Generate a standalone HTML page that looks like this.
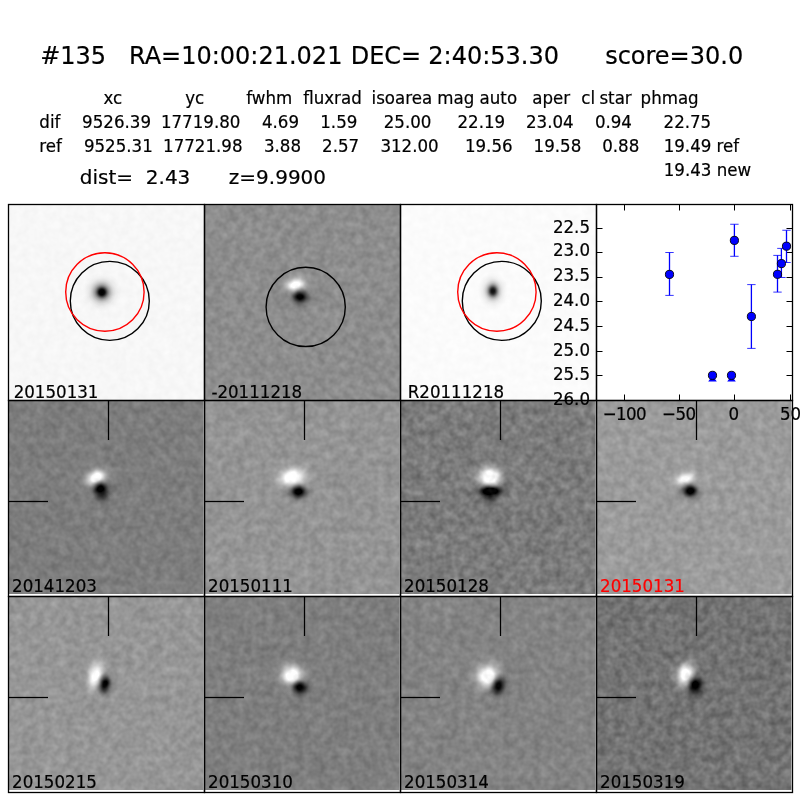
<!DOCTYPE html>
<html lang="en"><head><meta charset="utf-8"><title>candidate 135</title>
<style>
html,body{margin:0;padding:0;background:#fff;}
body{width:800px;height:800px;overflow:hidden;}
svg{display:block;}
text{font-family:"DejaVu Sans", "Liberation Sans", sans-serif;fill:#000;stroke:#000;stroke-width:0.2px;}
</style></head><body>
<svg width="800" height="800" viewBox="0 0 800 800">
<defs>
</defs>
<rect x="0" y="0" width="800" height="800" fill="#fff"/>
<filter id="n00" filterUnits="userSpaceOnUse" x="8" y="204" width="196" height="196" color-interpolation-filters="sRGB"><feTurbulence type="fractalNoise" baseFrequency="0.135" numOctaves="2" seed="14"/><feColorMatrix type="matrix" values="1 0 0 0 0 1 0 0 0 0 1 0 0 0 0 0 0 0 0 1" result="n"/><feTurbulence type="fractalNoise" baseFrequency="0.045" numOctaves="1" seed="31"/><feColorMatrix type="matrix" values="1 0 0 0 0 1 0 0 0 0 1 0 0 0 0 0 0 0 0 1" result="m"/><feComposite in="SourceGraphic" in2="n" operator="arithmetic" k1="0" k2="1" k3="0.04" k4="-0.02" result="s1"/><feComposite in="s1" in2="m" operator="arithmetic" k1="0" k2="1" k3="0.0112" k4="-0.0056"/></filter>
<clipPath id="c00"><rect x="8" y="204" width="196" height="196"/></clipPath>
<g clip-path="url(#c00)"><g filter="url(#n00)">
<rect x="8" y="204" width="196" height="196" fill="#f7f7f7"/>
<radialGradient id="g1"><stop offset="0.000" stop-color="#000" stop-opacity="1.000"/><stop offset="0.125" stop-color="#000" stop-opacity="0.980"/><stop offset="0.175" stop-color="#000" stop-opacity="0.880"/><stop offset="0.225" stop-color="#000" stop-opacity="0.720"/><stop offset="0.300" stop-color="#000" stop-opacity="0.500"/><stop offset="0.375" stop-color="#000" stop-opacity="0.340"/><stop offset="0.475" stop-color="#000" stop-opacity="0.200"/><stop offset="0.575" stop-color="#000" stop-opacity="0.110"/><stop offset="0.700" stop-color="#000" stop-opacity="0.050"/><stop offset="0.850" stop-color="#000" stop-opacity="0.015"/><stop offset="1.000" stop-color="#000" stop-opacity="0.000"/></radialGradient>
<ellipse cx="101.85" cy="292.2" rx="20.00" ry="20.00" fill="url(#g1)"/>
</g></g>
<filter id="n10" filterUnits="userSpaceOnUse" x="204" y="204" width="196" height="196" color-interpolation-filters="sRGB"><feTurbulence type="fractalNoise" baseFrequency="0.135" numOctaves="2" seed="21"/><feColorMatrix type="matrix" values="1 0 0 0 0 1 0 0 0 0 1 0 0 0 0 0 0 0 0 1" result="n"/><feTurbulence type="fractalNoise" baseFrequency="0.045" numOctaves="1" seed="44"/><feColorMatrix type="matrix" values="1 0 0 0 0 1 0 0 0 0 1 0 0 0 0 0 0 0 0 1" result="m"/><feComposite in="SourceGraphic" in2="n" operator="arithmetic" k1="0" k2="1" k3="0.17" k4="-0.085" result="s1"/><feComposite in="s1" in2="m" operator="arithmetic" k1="0" k2="1" k3="0.0476" k4="-0.0238"/></filter>
<clipPath id="c10"><rect x="204" y="204" width="196" height="196"/></clipPath>
<g clip-path="url(#c10)"><g filter="url(#n10)">
<rect x="204" y="204" width="196" height="196" fill="#8d8d8d"/>
<radialGradient id="g2"><stop offset="0.000" stop-color="#fff" stop-opacity="1.000"/><stop offset="0.059" stop-color="#fff" stop-opacity="1.000"/><stop offset="0.118" stop-color="#fff" stop-opacity="1.000"/><stop offset="0.176" stop-color="#fff" stop-opacity="1.000"/><stop offset="0.235" stop-color="#fff" stop-opacity="0.871"/><stop offset="0.294" stop-color="#fff" stop-opacity="0.728"/><stop offset="0.353" stop-color="#fff" stop-opacity="0.584"/><stop offset="0.412" stop-color="#fff" stop-opacity="0.450"/><stop offset="0.471" stop-color="#fff" stop-opacity="0.334"/><stop offset="0.529" stop-color="#fff" stop-opacity="0.237"/><stop offset="0.588" stop-color="#fff" stop-opacity="0.162"/><stop offset="0.647" stop-color="#fff" stop-opacity="0.107"/><stop offset="0.706" stop-color="#fff" stop-opacity="0.067"/><stop offset="0.765" stop-color="#fff" stop-opacity="0.041"/><stop offset="0.824" stop-color="#fff" stop-opacity="0.024"/><stop offset="0.882" stop-color="#fff" stop-opacity="0.009"/><stop offset="0.941" stop-color="#fff" stop-opacity="0.003"/><stop offset="1.000" stop-color="#fff" stop-opacity="0.000"/></radialGradient>
<ellipse cx="295.5" cy="285.1" rx="19.99" ry="14.73" fill="url(#g2)" transform="rotate(-12 295.5 285.1)"/>
<radialGradient id="g3"><stop offset="0.000" stop-color="#000" stop-opacity="1.000"/><stop offset="0.059" stop-color="#000" stop-opacity="1.000"/><stop offset="0.118" stop-color="#000" stop-opacity="1.000"/><stop offset="0.176" stop-color="#000" stop-opacity="0.961"/><stop offset="0.235" stop-color="#000" stop-opacity="0.835"/><stop offset="0.294" stop-color="#000" stop-opacity="0.698"/><stop offset="0.353" stop-color="#000" stop-opacity="0.560"/><stop offset="0.412" stop-color="#000" stop-opacity="0.432"/><stop offset="0.471" stop-color="#000" stop-opacity="0.320"/><stop offset="0.529" stop-color="#000" stop-opacity="0.228"/><stop offset="0.588" stop-color="#000" stop-opacity="0.156"/><stop offset="0.647" stop-color="#000" stop-opacity="0.102"/><stop offset="0.706" stop-color="#000" stop-opacity="0.065"/><stop offset="0.765" stop-color="#000" stop-opacity="0.039"/><stop offset="0.824" stop-color="#000" stop-opacity="0.023"/><stop offset="0.882" stop-color="#000" stop-opacity="0.009"/><stop offset="0.941" stop-color="#000" stop-opacity="0.002"/><stop offset="1.000" stop-color="#000" stop-opacity="0.000"/></radialGradient>
<ellipse cx="300" cy="296.75" rx="16.37" ry="13.78" fill="url(#g3)"/>
</g></g>
<filter id="n20" filterUnits="userSpaceOnUse" x="400" y="204" width="196" height="196" color-interpolation-filters="sRGB"><feTurbulence type="fractalNoise" baseFrequency="0.135" numOctaves="2" seed="28"/><feColorMatrix type="matrix" values="1 0 0 0 0 1 0 0 0 0 1 0 0 0 0 0 0 0 0 1" result="n"/><feTurbulence type="fractalNoise" baseFrequency="0.045" numOctaves="1" seed="57"/><feColorMatrix type="matrix" values="1 0 0 0 0 1 0 0 0 0 1 0 0 0 0 0 0 0 0 1" result="m"/><feComposite in="SourceGraphic" in2="n" operator="arithmetic" k1="0" k2="1" k3="0.03" k4="-0.015" result="s1"/><feComposite in="s1" in2="m" operator="arithmetic" k1="0" k2="1" k3="0.0084" k4="-0.0042"/></filter>
<clipPath id="c20"><rect x="400" y="204" width="196" height="196"/></clipPath>
<g clip-path="url(#c20)"><g filter="url(#n20)">
<rect x="400" y="204" width="196" height="196" fill="#fbfbfb"/>
<radialGradient id="g4"><stop offset="0.000" stop-color="#000" stop-opacity="0.950"/><stop offset="0.111" stop-color="#000" stop-opacity="0.900"/><stop offset="0.194" stop-color="#000" stop-opacity="0.740"/><stop offset="0.278" stop-color="#000" stop-opacity="0.520"/><stop offset="0.361" stop-color="#000" stop-opacity="0.340"/><stop offset="0.444" stop-color="#000" stop-opacity="0.210"/><stop offset="0.556" stop-color="#000" stop-opacity="0.110"/><stop offset="0.667" stop-color="#000" stop-opacity="0.055"/><stop offset="0.833" stop-color="#000" stop-opacity="0.020"/><stop offset="1.000" stop-color="#000" stop-opacity="0.000"/></radialGradient>
<ellipse cx="492.9" cy="291" rx="15.30" ry="18.90" fill="url(#g4)"/>
</g></g>
<filter id="n01" filterUnits="userSpaceOnUse" x="8" y="400" width="196" height="196" color-interpolation-filters="sRGB"><feTurbulence type="fractalNoise" baseFrequency="0.135" numOctaves="2" seed="35"/><feColorMatrix type="matrix" values="1 0 0 0 0 1 0 0 0 0 1 0 0 0 0 0 0 0 0 1" result="n"/><feTurbulence type="fractalNoise" baseFrequency="0.045" numOctaves="1" seed="70"/><feColorMatrix type="matrix" values="1 0 0 0 0 1 0 0 0 0 1 0 0 0 0 0 0 0 0 1" result="m"/><feComposite in="SourceGraphic" in2="n" operator="arithmetic" k1="0" k2="1" k3="0.17" k4="-0.085" result="s1"/><feComposite in="s1" in2="m" operator="arithmetic" k1="0" k2="1" k3="0.0476" k4="-0.0238"/></filter>
<rect x="8" y="400" width="196" height="196" fill="#fff"/>
<clipPath id="c01"><rect x="8" y="400" width="195.4" height="193.9"/></clipPath>
<g clip-path="url(#c01)"><g filter="url(#n01)">
<rect x="8" y="400" width="196" height="196" fill="#7d7d7d"/>
<radialGradient id="g5"><stop offset="0.000" stop-color="#fff" stop-opacity="1.000"/><stop offset="0.059" stop-color="#fff" stop-opacity="1.000"/><stop offset="0.118" stop-color="#fff" stop-opacity="1.000"/><stop offset="0.176" stop-color="#fff" stop-opacity="1.000"/><stop offset="0.235" stop-color="#fff" stop-opacity="0.980"/><stop offset="0.294" stop-color="#fff" stop-opacity="0.819"/><stop offset="0.353" stop-color="#fff" stop-opacity="0.657"/><stop offset="0.412" stop-color="#fff" stop-opacity="0.507"/><stop offset="0.471" stop-color="#fff" stop-opacity="0.375"/><stop offset="0.529" stop-color="#fff" stop-opacity="0.267"/><stop offset="0.588" stop-color="#fff" stop-opacity="0.183"/><stop offset="0.647" stop-color="#fff" stop-opacity="0.120"/><stop offset="0.706" stop-color="#fff" stop-opacity="0.076"/><stop offset="0.765" stop-color="#fff" stop-opacity="0.046"/><stop offset="0.824" stop-color="#fff" stop-opacity="0.027"/><stop offset="0.882" stop-color="#fff" stop-opacity="0.011"/><stop offset="0.941" stop-color="#fff" stop-opacity="0.003"/><stop offset="1.000" stop-color="#fff" stop-opacity="0.000"/></radialGradient>
<ellipse cx="96" cy="477.6" rx="21.59" ry="15.42" fill="url(#g5)" transform="rotate(-25 96 477.6)"/>
<radialGradient id="g6"><stop offset="0.000" stop-color="#000" stop-opacity="0.600"/><stop offset="0.059" stop-color="#000" stop-opacity="0.588"/><stop offset="0.118" stop-color="#000" stop-opacity="0.554"/><stop offset="0.176" stop-color="#000" stop-opacity="0.501"/><stop offset="0.235" stop-color="#000" stop-opacity="0.436"/><stop offset="0.294" stop-color="#000" stop-opacity="0.364"/><stop offset="0.353" stop-color="#000" stop-opacity="0.292"/><stop offset="0.412" stop-color="#000" stop-opacity="0.225"/><stop offset="0.471" stop-color="#000" stop-opacity="0.167"/><stop offset="0.529" stop-color="#000" stop-opacity="0.119"/><stop offset="0.588" stop-color="#000" stop-opacity="0.081"/><stop offset="0.647" stop-color="#000" stop-opacity="0.053"/><stop offset="0.706" stop-color="#000" stop-opacity="0.034"/><stop offset="0.765" stop-color="#000" stop-opacity="0.020"/><stop offset="0.824" stop-color="#000" stop-opacity="0.012"/><stop offset="0.882" stop-color="#000" stop-opacity="0.005"/><stop offset="0.941" stop-color="#000" stop-opacity="0.001"/><stop offset="1.000" stop-color="#000" stop-opacity="0.000"/></radialGradient>
<ellipse cx="101.8" cy="496" rx="13.08" ry="15.09" fill="url(#g6)"/>
<radialGradient id="g7"><stop offset="0.000" stop-color="#000" stop-opacity="1.000"/><stop offset="0.059" stop-color="#000" stop-opacity="1.000"/><stop offset="0.118" stop-color="#000" stop-opacity="1.000"/><stop offset="0.176" stop-color="#000" stop-opacity="1.000"/><stop offset="0.235" stop-color="#000" stop-opacity="0.871"/><stop offset="0.294" stop-color="#000" stop-opacity="0.728"/><stop offset="0.353" stop-color="#000" stop-opacity="0.584"/><stop offset="0.412" stop-color="#000" stop-opacity="0.450"/><stop offset="0.471" stop-color="#000" stop-opacity="0.334"/><stop offset="0.529" stop-color="#000" stop-opacity="0.237"/><stop offset="0.588" stop-color="#000" stop-opacity="0.162"/><stop offset="0.647" stop-color="#000" stop-opacity="0.107"/><stop offset="0.706" stop-color="#000" stop-opacity="0.067"/><stop offset="0.765" stop-color="#000" stop-opacity="0.041"/><stop offset="0.824" stop-color="#000" stop-opacity="0.024"/><stop offset="0.882" stop-color="#000" stop-opacity="0.009"/><stop offset="0.941" stop-color="#000" stop-opacity="0.003"/><stop offset="1.000" stop-color="#000" stop-opacity="0.000"/></radialGradient>
<ellipse cx="100.75" cy="488.9" rx="16.23" ry="13.67" fill="url(#g7)"/>
</g></g>
<filter id="n11" filterUnits="userSpaceOnUse" x="204" y="400" width="196" height="196" color-interpolation-filters="sRGB"><feTurbulence type="fractalNoise" baseFrequency="0.135" numOctaves="2" seed="42"/><feColorMatrix type="matrix" values="1 0 0 0 0 1 0 0 0 0 1 0 0 0 0 0 0 0 0 1" result="n"/><feTurbulence type="fractalNoise" baseFrequency="0.045" numOctaves="1" seed="83"/><feColorMatrix type="matrix" values="1 0 0 0 0 1 0 0 0 0 1 0 0 0 0 0 0 0 0 1" result="m"/><feComposite in="SourceGraphic" in2="n" operator="arithmetic" k1="0" k2="1" k3="0.17" k4="-0.085" result="s1"/><feComposite in="s1" in2="m" operator="arithmetic" k1="0" k2="1" k3="0.0476" k4="-0.0238"/></filter>
<rect x="204" y="400" width="196" height="196" fill="#fff"/>
<clipPath id="c11"><rect x="204" y="400" width="195.4" height="193.9"/></clipPath>
<g clip-path="url(#c11)"><g filter="url(#n11)">
<rect x="204" y="400" width="196" height="196" fill="#949494"/>
<radialGradient id="g8"><stop offset="0.000" stop-color="#fff" stop-opacity="1.000"/><stop offset="0.059" stop-color="#fff" stop-opacity="1.000"/><stop offset="0.118" stop-color="#fff" stop-opacity="1.000"/><stop offset="0.176" stop-color="#fff" stop-opacity="1.000"/><stop offset="0.235" stop-color="#fff" stop-opacity="1.000"/><stop offset="0.294" stop-color="#fff" stop-opacity="0.910"/><stop offset="0.353" stop-color="#fff" stop-opacity="0.730"/><stop offset="0.412" stop-color="#fff" stop-opacity="0.563"/><stop offset="0.471" stop-color="#fff" stop-opacity="0.417"/><stop offset="0.529" stop-color="#fff" stop-opacity="0.297"/><stop offset="0.588" stop-color="#fff" stop-opacity="0.203"/><stop offset="0.647" stop-color="#fff" stop-opacity="0.133"/><stop offset="0.706" stop-color="#fff" stop-opacity="0.084"/><stop offset="0.765" stop-color="#fff" stop-opacity="0.051"/><stop offset="0.824" stop-color="#fff" stop-opacity="0.030"/><stop offset="0.882" stop-color="#fff" stop-opacity="0.012"/><stop offset="0.941" stop-color="#fff" stop-opacity="0.003"/><stop offset="1.000" stop-color="#fff" stop-opacity="0.000"/></radialGradient>
<ellipse cx="292.6" cy="477.5" rx="27.22" ry="19.15" fill="url(#g8)" transform="rotate(-8 292.6 477.5)"/>
<radialGradient id="g9"><stop offset="0.000" stop-color="#000" stop-opacity="1.000"/><stop offset="0.059" stop-color="#000" stop-opacity="1.000"/><stop offset="0.118" stop-color="#000" stop-opacity="1.000"/><stop offset="0.176" stop-color="#000" stop-opacity="0.961"/><stop offset="0.235" stop-color="#000" stop-opacity="0.835"/><stop offset="0.294" stop-color="#000" stop-opacity="0.698"/><stop offset="0.353" stop-color="#000" stop-opacity="0.560"/><stop offset="0.412" stop-color="#000" stop-opacity="0.432"/><stop offset="0.471" stop-color="#000" stop-opacity="0.320"/><stop offset="0.529" stop-color="#000" stop-opacity="0.228"/><stop offset="0.588" stop-color="#000" stop-opacity="0.156"/><stop offset="0.647" stop-color="#000" stop-opacity="0.102"/><stop offset="0.706" stop-color="#000" stop-opacity="0.065"/><stop offset="0.765" stop-color="#000" stop-opacity="0.039"/><stop offset="0.824" stop-color="#000" stop-opacity="0.023"/><stop offset="0.882" stop-color="#000" stop-opacity="0.009"/><stop offset="0.941" stop-color="#000" stop-opacity="0.002"/><stop offset="1.000" stop-color="#000" stop-opacity="0.000"/></radialGradient>
<ellipse cx="298.25" cy="491.75" rx="18.09" ry="14.21" fill="url(#g9)"/>
</g></g>
<filter id="n21" filterUnits="userSpaceOnUse" x="400" y="400" width="196" height="196" color-interpolation-filters="sRGB"><feTurbulence type="fractalNoise" baseFrequency="0.135" numOctaves="2" seed="49"/><feColorMatrix type="matrix" values="1 0 0 0 0 1 0 0 0 0 1 0 0 0 0 0 0 0 0 1" result="n"/><feTurbulence type="fractalNoise" baseFrequency="0.045" numOctaves="1" seed="96"/><feColorMatrix type="matrix" values="1 0 0 0 0 1 0 0 0 0 1 0 0 0 0 0 0 0 0 1" result="m"/><feComposite in="SourceGraphic" in2="n" operator="arithmetic" k1="0" k2="1" k3="0.25" k4="-0.125" result="s1"/><feComposite in="s1" in2="m" operator="arithmetic" k1="0" k2="1" k3="0.07" k4="-0.035"/></filter>
<rect x="400" y="400" width="196" height="196" fill="#fff"/>
<clipPath id="c21"><rect x="400" y="400" width="195.4" height="193.9"/></clipPath>
<g clip-path="url(#c21)"><g filter="url(#n21)">
<rect x="400" y="400" width="196" height="196" fill="#7b7b7b"/>
<radialGradient id="g10"><stop offset="0.000" stop-color="#fff" stop-opacity="1.000"/><stop offset="0.059" stop-color="#fff" stop-opacity="1.000"/><stop offset="0.118" stop-color="#fff" stop-opacity="1.000"/><stop offset="0.176" stop-color="#fff" stop-opacity="1.000"/><stop offset="0.235" stop-color="#fff" stop-opacity="1.000"/><stop offset="0.294" stop-color="#fff" stop-opacity="0.910"/><stop offset="0.353" stop-color="#fff" stop-opacity="0.730"/><stop offset="0.412" stop-color="#fff" stop-opacity="0.563"/><stop offset="0.471" stop-color="#fff" stop-opacity="0.417"/><stop offset="0.529" stop-color="#fff" stop-opacity="0.297"/><stop offset="0.588" stop-color="#fff" stop-opacity="0.203"/><stop offset="0.647" stop-color="#fff" stop-opacity="0.133"/><stop offset="0.706" stop-color="#fff" stop-opacity="0.084"/><stop offset="0.765" stop-color="#fff" stop-opacity="0.051"/><stop offset="0.824" stop-color="#fff" stop-opacity="0.030"/><stop offset="0.882" stop-color="#fff" stop-opacity="0.012"/><stop offset="0.941" stop-color="#fff" stop-opacity="0.003"/><stop offset="1.000" stop-color="#fff" stop-opacity="0.000"/></radialGradient>
<ellipse cx="490.1" cy="476.75" rx="23.19" ry="20.16" fill="url(#g10)"/>
<radialGradient id="g11"><stop offset="0.000" stop-color="#000" stop-opacity="0.700"/><stop offset="0.059" stop-color="#000" stop-opacity="0.686"/><stop offset="0.118" stop-color="#000" stop-opacity="0.646"/><stop offset="0.176" stop-color="#000" stop-opacity="0.585"/><stop offset="0.235" stop-color="#000" stop-opacity="0.508"/><stop offset="0.294" stop-color="#000" stop-opacity="0.425"/><stop offset="0.353" stop-color="#000" stop-opacity="0.341"/><stop offset="0.412" stop-color="#000" stop-opacity="0.263"/><stop offset="0.471" stop-color="#000" stop-opacity="0.195"/><stop offset="0.529" stop-color="#000" stop-opacity="0.139"/><stop offset="0.588" stop-color="#000" stop-opacity="0.095"/><stop offset="0.647" stop-color="#000" stop-opacity="0.062"/><stop offset="0.706" stop-color="#000" stop-opacity="0.039"/><stop offset="0.765" stop-color="#000" stop-opacity="0.024"/><stop offset="0.824" stop-color="#000" stop-opacity="0.014"/><stop offset="0.882" stop-color="#000" stop-opacity="0.005"/><stop offset="0.941" stop-color="#000" stop-opacity="0.001"/><stop offset="1.000" stop-color="#000" stop-opacity="0.000"/></radialGradient>
<ellipse cx="490.8" cy="497" rx="12.55" ry="13.51" fill="url(#g11)"/>
<radialGradient id="g12"><stop offset="0.000" stop-color="#000" stop-opacity="1.000"/><stop offset="0.059" stop-color="#000" stop-opacity="1.000"/><stop offset="0.118" stop-color="#000" stop-opacity="1.000"/><stop offset="0.176" stop-color="#000" stop-opacity="1.000"/><stop offset="0.235" stop-color="#000" stop-opacity="1.000"/><stop offset="0.294" stop-color="#000" stop-opacity="0.970"/><stop offset="0.353" stop-color="#000" stop-opacity="0.779"/><stop offset="0.412" stop-color="#000" stop-opacity="0.600"/><stop offset="0.471" stop-color="#000" stop-opacity="0.445"/><stop offset="0.529" stop-color="#000" stop-opacity="0.317"/><stop offset="0.588" stop-color="#000" stop-opacity="0.217"/><stop offset="0.647" stop-color="#000" stop-opacity="0.142"/><stop offset="0.706" stop-color="#000" stop-opacity="0.090"/><stop offset="0.765" stop-color="#000" stop-opacity="0.054"/><stop offset="0.824" stop-color="#000" stop-opacity="0.032"/><stop offset="0.882" stop-color="#000" stop-opacity="0.013"/><stop offset="0.941" stop-color="#000" stop-opacity="0.003"/><stop offset="1.000" stop-color="#000" stop-opacity="0.000"/></radialGradient>
<ellipse cx="490.5" cy="491.3" rx="24.26" ry="10.51" fill="url(#g12)"/>
</g></g>
<filter id="n31" filterUnits="userSpaceOnUse" x="596" y="400" width="196" height="196" color-interpolation-filters="sRGB"><feTurbulence type="fractalNoise" baseFrequency="0.135" numOctaves="2" seed="56"/><feColorMatrix type="matrix" values="1 0 0 0 0 1 0 0 0 0 1 0 0 0 0 0 0 0 0 1" result="n"/><feTurbulence type="fractalNoise" baseFrequency="0.045" numOctaves="1" seed="109"/><feColorMatrix type="matrix" values="1 0 0 0 0 1 0 0 0 0 1 0 0 0 0 0 0 0 0 1" result="m"/><feComposite in="SourceGraphic" in2="n" operator="arithmetic" k1="0" k2="1" k3="0.17" k4="-0.085" result="s1"/><feComposite in="s1" in2="m" operator="arithmetic" k1="0" k2="1" k3="0.0476" k4="-0.0238"/></filter>
<rect x="596" y="400" width="196" height="196" fill="#fff"/>
<clipPath id="c31"><rect x="596" y="400" width="195.4" height="193.9"/></clipPath>
<g clip-path="url(#c31)"><g filter="url(#n31)">
<rect x="596" y="400" width="196" height="196" fill="#9b9b9b"/>
<radialGradient id="g13"><stop offset="0.000" stop-color="#fff" stop-opacity="1.000"/><stop offset="0.059" stop-color="#fff" stop-opacity="1.000"/><stop offset="0.118" stop-color="#fff" stop-opacity="1.000"/><stop offset="0.176" stop-color="#fff" stop-opacity="1.000"/><stop offset="0.235" stop-color="#fff" stop-opacity="0.871"/><stop offset="0.294" stop-color="#fff" stop-opacity="0.728"/><stop offset="0.353" stop-color="#fff" stop-opacity="0.584"/><stop offset="0.412" stop-color="#fff" stop-opacity="0.450"/><stop offset="0.471" stop-color="#fff" stop-opacity="0.334"/><stop offset="0.529" stop-color="#fff" stop-opacity="0.237"/><stop offset="0.588" stop-color="#fff" stop-opacity="0.162"/><stop offset="0.647" stop-color="#fff" stop-opacity="0.107"/><stop offset="0.706" stop-color="#fff" stop-opacity="0.067"/><stop offset="0.765" stop-color="#fff" stop-opacity="0.041"/><stop offset="0.824" stop-color="#fff" stop-opacity="0.024"/><stop offset="0.882" stop-color="#fff" stop-opacity="0.009"/><stop offset="0.941" stop-color="#fff" stop-opacity="0.003"/><stop offset="1.000" stop-color="#fff" stop-opacity="0.000"/></radialGradient>
<ellipse cx="685" cy="479" rx="20.52" ry="12.63" fill="url(#g13)" transform="rotate(-15 685 479)"/>
<radialGradient id="g14"><stop offset="0.000" stop-color="#000" stop-opacity="1.000"/><stop offset="0.059" stop-color="#000" stop-opacity="1.000"/><stop offset="0.118" stop-color="#000" stop-opacity="1.000"/><stop offset="0.176" stop-color="#000" stop-opacity="1.000"/><stop offset="0.235" stop-color="#000" stop-opacity="0.871"/><stop offset="0.294" stop-color="#000" stop-opacity="0.728"/><stop offset="0.353" stop-color="#000" stop-opacity="0.584"/><stop offset="0.412" stop-color="#000" stop-opacity="0.450"/><stop offset="0.471" stop-color="#000" stop-opacity="0.334"/><stop offset="0.529" stop-color="#000" stop-opacity="0.237"/><stop offset="0.588" stop-color="#000" stop-opacity="0.162"/><stop offset="0.647" stop-color="#000" stop-opacity="0.107"/><stop offset="0.706" stop-color="#000" stop-opacity="0.067"/><stop offset="0.765" stop-color="#000" stop-opacity="0.041"/><stop offset="0.824" stop-color="#000" stop-opacity="0.024"/><stop offset="0.882" stop-color="#000" stop-opacity="0.009"/><stop offset="0.941" stop-color="#000" stop-opacity="0.003"/><stop offset="1.000" stop-color="#000" stop-opacity="0.000"/></radialGradient>
<ellipse cx="690.25" cy="491" rx="16.65" ry="13.67" fill="url(#g14)"/>
</g></g>
<filter id="n02" filterUnits="userSpaceOnUse" x="8" y="596" width="196" height="196" color-interpolation-filters="sRGB"><feTurbulence type="fractalNoise" baseFrequency="0.135" numOctaves="2" seed="63"/><feColorMatrix type="matrix" values="1 0 0 0 0 1 0 0 0 0 1 0 0 0 0 0 0 0 0 1" result="n"/><feTurbulence type="fractalNoise" baseFrequency="0.045" numOctaves="1" seed="122"/><feColorMatrix type="matrix" values="1 0 0 0 0 1 0 0 0 0 1 0 0 0 0 0 0 0 0 1" result="m"/><feComposite in="SourceGraphic" in2="n" operator="arithmetic" k1="0" k2="1" k3="0.17" k4="-0.085" result="s1"/><feComposite in="s1" in2="m" operator="arithmetic" k1="0" k2="1" k3="0.0476" k4="-0.0238"/></filter>
<rect x="8" y="596" width="196" height="196" fill="#fff"/>
<clipPath id="c02"><rect x="8" y="596" width="195.4" height="193.9"/></clipPath>
<g clip-path="url(#c02)"><g filter="url(#n02)">
<rect x="8" y="596" width="196" height="196" fill="#969696"/>
<radialGradient id="g15"><stop offset="0.000" stop-color="#fff" stop-opacity="1.000"/><stop offset="0.059" stop-color="#fff" stop-opacity="1.000"/><stop offset="0.118" stop-color="#fff" stop-opacity="1.000"/><stop offset="0.176" stop-color="#fff" stop-opacity="1.000"/><stop offset="0.235" stop-color="#fff" stop-opacity="0.871"/><stop offset="0.294" stop-color="#fff" stop-opacity="0.728"/><stop offset="0.353" stop-color="#fff" stop-opacity="0.584"/><stop offset="0.412" stop-color="#fff" stop-opacity="0.450"/><stop offset="0.471" stop-color="#fff" stop-opacity="0.334"/><stop offset="0.529" stop-color="#fff" stop-opacity="0.237"/><stop offset="0.588" stop-color="#fff" stop-opacity="0.162"/><stop offset="0.647" stop-color="#fff" stop-opacity="0.107"/><stop offset="0.706" stop-color="#fff" stop-opacity="0.067"/><stop offset="0.765" stop-color="#fff" stop-opacity="0.041"/><stop offset="0.824" stop-color="#fff" stop-opacity="0.024"/><stop offset="0.882" stop-color="#fff" stop-opacity="0.009"/><stop offset="0.941" stop-color="#fff" stop-opacity="0.003"/><stop offset="1.000" stop-color="#fff" stop-opacity="0.000"/></radialGradient>
<ellipse cx="95.5" cy="675.75" rx="15.79" ry="26.83" fill="url(#g15)" transform="rotate(15 95.5 675.75)"/>
<radialGradient id="g16"><stop offset="0.000" stop-color="#000" stop-opacity="1.000"/><stop offset="0.059" stop-color="#000" stop-opacity="1.000"/><stop offset="0.118" stop-color="#000" stop-opacity="1.000"/><stop offset="0.176" stop-color="#000" stop-opacity="0.961"/><stop offset="0.235" stop-color="#000" stop-opacity="0.835"/><stop offset="0.294" stop-color="#000" stop-opacity="0.698"/><stop offset="0.353" stop-color="#000" stop-opacity="0.560"/><stop offset="0.412" stop-color="#000" stop-opacity="0.432"/><stop offset="0.471" stop-color="#000" stop-opacity="0.320"/><stop offset="0.529" stop-color="#000" stop-opacity="0.228"/><stop offset="0.588" stop-color="#000" stop-opacity="0.156"/><stop offset="0.647" stop-color="#000" stop-opacity="0.102"/><stop offset="0.706" stop-color="#000" stop-opacity="0.065"/><stop offset="0.765" stop-color="#000" stop-opacity="0.039"/><stop offset="0.824" stop-color="#000" stop-opacity="0.023"/><stop offset="0.882" stop-color="#000" stop-opacity="0.009"/><stop offset="0.941" stop-color="#000" stop-opacity="0.002"/><stop offset="1.000" stop-color="#000" stop-opacity="0.000"/></radialGradient>
<ellipse cx="105" cy="684.2" rx="12.06" ry="18.09" fill="url(#g16)" transform="rotate(10 105 684.2)"/>
</g></g>
<filter id="n12" filterUnits="userSpaceOnUse" x="204" y="596" width="196" height="196" color-interpolation-filters="sRGB"><feTurbulence type="fractalNoise" baseFrequency="0.135" numOctaves="2" seed="70"/><feColorMatrix type="matrix" values="1 0 0 0 0 1 0 0 0 0 1 0 0 0 0 0 0 0 0 1" result="n"/><feTurbulence type="fractalNoise" baseFrequency="0.045" numOctaves="1" seed="135"/><feColorMatrix type="matrix" values="1 0 0 0 0 1 0 0 0 0 1 0 0 0 0 0 0 0 0 1" result="m"/><feComposite in="SourceGraphic" in2="n" operator="arithmetic" k1="0" k2="1" k3="0.17" k4="-0.085" result="s1"/><feComposite in="s1" in2="m" operator="arithmetic" k1="0" k2="1" k3="0.0476" k4="-0.0238"/></filter>
<rect x="204" y="596" width="196" height="196" fill="#fff"/>
<clipPath id="c12"><rect x="204" y="596" width="195.4" height="193.9"/></clipPath>
<g clip-path="url(#c12)"><g filter="url(#n12)">
<rect x="204" y="596" width="196" height="196" fill="#7e7e7e"/>
<radialGradient id="g17"><stop offset="0.000" stop-color="#fff" stop-opacity="1.000"/><stop offset="0.059" stop-color="#fff" stop-opacity="1.000"/><stop offset="0.118" stop-color="#fff" stop-opacity="1.000"/><stop offset="0.176" stop-color="#fff" stop-opacity="1.000"/><stop offset="0.235" stop-color="#fff" stop-opacity="0.980"/><stop offset="0.294" stop-color="#fff" stop-opacity="0.819"/><stop offset="0.353" stop-color="#fff" stop-opacity="0.657"/><stop offset="0.412" stop-color="#fff" stop-opacity="0.507"/><stop offset="0.471" stop-color="#fff" stop-opacity="0.375"/><stop offset="0.529" stop-color="#fff" stop-opacity="0.267"/><stop offset="0.588" stop-color="#fff" stop-opacity="0.183"/><stop offset="0.647" stop-color="#fff" stop-opacity="0.120"/><stop offset="0.706" stop-color="#fff" stop-opacity="0.076"/><stop offset="0.765" stop-color="#fff" stop-opacity="0.046"/><stop offset="0.824" stop-color="#fff" stop-opacity="0.027"/><stop offset="0.882" stop-color="#fff" stop-opacity="0.011"/><stop offset="0.941" stop-color="#fff" stop-opacity="0.003"/><stop offset="1.000" stop-color="#fff" stop-opacity="0.000"/></radialGradient>
<ellipse cx="292.25" cy="675.75" rx="23.14" ry="22.62" fill="url(#g17)"/>
<radialGradient id="g18"><stop offset="0.000" stop-color="#000" stop-opacity="1.000"/><stop offset="0.059" stop-color="#000" stop-opacity="1.000"/><stop offset="0.118" stop-color="#000" stop-opacity="1.000"/><stop offset="0.176" stop-color="#000" stop-opacity="0.919"/><stop offset="0.235" stop-color="#000" stop-opacity="0.799"/><stop offset="0.294" stop-color="#000" stop-opacity="0.667"/><stop offset="0.353" stop-color="#000" stop-opacity="0.535"/><stop offset="0.412" stop-color="#000" stop-opacity="0.413"/><stop offset="0.471" stop-color="#000" stop-opacity="0.306"/><stop offset="0.529" stop-color="#000" stop-opacity="0.218"/><stop offset="0.588" stop-color="#000" stop-opacity="0.149"/><stop offset="0.647" stop-color="#000" stop-opacity="0.098"/><stop offset="0.706" stop-color="#000" stop-opacity="0.062"/><stop offset="0.765" stop-color="#000" stop-opacity="0.037"/><stop offset="0.824" stop-color="#000" stop-opacity="0.022"/><stop offset="0.882" stop-color="#000" stop-opacity="0.009"/><stop offset="0.941" stop-color="#000" stop-opacity="0.002"/><stop offset="1.000" stop-color="#000" stop-opacity="0.000"/></radialGradient>
<ellipse cx="299.75" cy="687.75" rx="17.39" ry="14.78" fill="url(#g18)"/>
</g></g>
<filter id="n22" filterUnits="userSpaceOnUse" x="400" y="596" width="196" height="196" color-interpolation-filters="sRGB"><feTurbulence type="fractalNoise" baseFrequency="0.135" numOctaves="2" seed="77"/><feColorMatrix type="matrix" values="1 0 0 0 0 1 0 0 0 0 1 0 0 0 0 0 0 0 0 1" result="n"/><feTurbulence type="fractalNoise" baseFrequency="0.045" numOctaves="1" seed="148"/><feColorMatrix type="matrix" values="1 0 0 0 0 1 0 0 0 0 1 0 0 0 0 0 0 0 0 1" result="m"/><feComposite in="SourceGraphic" in2="n" operator="arithmetic" k1="0" k2="1" k3="0.17" k4="-0.085" result="s1"/><feComposite in="s1" in2="m" operator="arithmetic" k1="0" k2="1" k3="0.0476" k4="-0.0238"/></filter>
<rect x="400" y="596" width="196" height="196" fill="#fff"/>
<clipPath id="c22"><rect x="400" y="596" width="195.4" height="193.9"/></clipPath>
<g clip-path="url(#c22)"><g filter="url(#n22)">
<rect x="400" y="596" width="196" height="196" fill="#838383"/>
<radialGradient id="g19"><stop offset="0.000" stop-color="#fff" stop-opacity="1.000"/><stop offset="0.059" stop-color="#fff" stop-opacity="1.000"/><stop offset="0.118" stop-color="#fff" stop-opacity="1.000"/><stop offset="0.176" stop-color="#fff" stop-opacity="1.000"/><stop offset="0.235" stop-color="#fff" stop-opacity="0.980"/><stop offset="0.294" stop-color="#fff" stop-opacity="0.819"/><stop offset="0.353" stop-color="#fff" stop-opacity="0.657"/><stop offset="0.412" stop-color="#fff" stop-opacity="0.507"/><stop offset="0.471" stop-color="#fff" stop-opacity="0.375"/><stop offset="0.529" stop-color="#fff" stop-opacity="0.267"/><stop offset="0.588" stop-color="#fff" stop-opacity="0.183"/><stop offset="0.647" stop-color="#fff" stop-opacity="0.120"/><stop offset="0.706" stop-color="#fff" stop-opacity="0.076"/><stop offset="0.765" stop-color="#fff" stop-opacity="0.046"/><stop offset="0.824" stop-color="#fff" stop-opacity="0.027"/><stop offset="0.882" stop-color="#fff" stop-opacity="0.011"/><stop offset="0.941" stop-color="#fff" stop-opacity="0.003"/><stop offset="1.000" stop-color="#fff" stop-opacity="0.000"/></radialGradient>
<ellipse cx="487.9" cy="676.5" rx="24.68" ry="24.68" fill="url(#g19)" transform="rotate(15 487.9 676.5)"/>
<radialGradient id="g20"><stop offset="0.000" stop-color="#000" stop-opacity="1.000"/><stop offset="0.059" stop-color="#000" stop-opacity="1.000"/><stop offset="0.118" stop-color="#000" stop-opacity="1.000"/><stop offset="0.176" stop-color="#000" stop-opacity="0.919"/><stop offset="0.235" stop-color="#000" stop-opacity="0.799"/><stop offset="0.294" stop-color="#000" stop-opacity="0.667"/><stop offset="0.353" stop-color="#000" stop-opacity="0.535"/><stop offset="0.412" stop-color="#000" stop-opacity="0.413"/><stop offset="0.471" stop-color="#000" stop-opacity="0.306"/><stop offset="0.529" stop-color="#000" stop-opacity="0.218"/><stop offset="0.588" stop-color="#000" stop-opacity="0.149"/><stop offset="0.647" stop-color="#000" stop-opacity="0.098"/><stop offset="0.706" stop-color="#000" stop-opacity="0.062"/><stop offset="0.765" stop-color="#000" stop-opacity="0.037"/><stop offset="0.824" stop-color="#000" stop-opacity="0.022"/><stop offset="0.882" stop-color="#000" stop-opacity="0.009"/><stop offset="0.941" stop-color="#000" stop-opacity="0.002"/><stop offset="1.000" stop-color="#000" stop-opacity="0.000"/></radialGradient>
<ellipse cx="498.5" cy="685.8" rx="14.78" ry="20.00" fill="url(#g20)" transform="rotate(20 498.5 685.8)"/>
</g></g>
<filter id="n32" filterUnits="userSpaceOnUse" x="596" y="596" width="196" height="196" color-interpolation-filters="sRGB"><feTurbulence type="fractalNoise" baseFrequency="0.135" numOctaves="2" seed="84"/><feColorMatrix type="matrix" values="1 0 0 0 0 1 0 0 0 0 1 0 0 0 0 0 0 0 0 1" result="n"/><feTurbulence type="fractalNoise" baseFrequency="0.045" numOctaves="1" seed="161"/><feColorMatrix type="matrix" values="1 0 0 0 0 1 0 0 0 0 1 0 0 0 0 0 0 0 0 1" result="m"/><feComposite in="SourceGraphic" in2="n" operator="arithmetic" k1="0" k2="1" k3="0.25" k4="-0.125" result="s1"/><feComposite in="s1" in2="m" operator="arithmetic" k1="0" k2="1" k3="0.07" k4="-0.035"/></filter>
<rect x="596" y="596" width="196" height="196" fill="#fff"/>
<clipPath id="c32"><rect x="596" y="596" width="195.4" height="193.9"/></clipPath>
<g clip-path="url(#c32)"><g filter="url(#n32)">
<rect x="596" y="596" width="196" height="196" fill="#737373"/>
<radialGradient id="g21"><stop offset="0.000" stop-color="#fff" stop-opacity="1.000"/><stop offset="0.059" stop-color="#fff" stop-opacity="1.000"/><stop offset="0.118" stop-color="#fff" stop-opacity="1.000"/><stop offset="0.176" stop-color="#fff" stop-opacity="1.000"/><stop offset="0.235" stop-color="#fff" stop-opacity="0.871"/><stop offset="0.294" stop-color="#fff" stop-opacity="0.728"/><stop offset="0.353" stop-color="#fff" stop-opacity="0.584"/><stop offset="0.412" stop-color="#fff" stop-opacity="0.450"/><stop offset="0.471" stop-color="#fff" stop-opacity="0.334"/><stop offset="0.529" stop-color="#fff" stop-opacity="0.237"/><stop offset="0.588" stop-color="#fff" stop-opacity="0.162"/><stop offset="0.647" stop-color="#fff" stop-opacity="0.107"/><stop offset="0.706" stop-color="#fff" stop-opacity="0.067"/><stop offset="0.765" stop-color="#fff" stop-opacity="0.041"/><stop offset="0.824" stop-color="#fff" stop-opacity="0.024"/><stop offset="0.882" stop-color="#fff" stop-opacity="0.009"/><stop offset="0.941" stop-color="#fff" stop-opacity="0.003"/><stop offset="1.000" stop-color="#fff" stop-opacity="0.000"/></radialGradient>
<ellipse cx="685.75" cy="675" rx="21.05" ry="25.26" fill="url(#g21)" transform="rotate(8 685.75 675)"/>
<radialGradient id="g22"><stop offset="0.000" stop-color="#000" stop-opacity="1.000"/><stop offset="0.059" stop-color="#000" stop-opacity="1.000"/><stop offset="0.118" stop-color="#000" stop-opacity="1.000"/><stop offset="0.176" stop-color="#000" stop-opacity="0.961"/><stop offset="0.235" stop-color="#000" stop-opacity="0.835"/><stop offset="0.294" stop-color="#000" stop-opacity="0.698"/><stop offset="0.353" stop-color="#000" stop-opacity="0.560"/><stop offset="0.412" stop-color="#000" stop-opacity="0.432"/><stop offset="0.471" stop-color="#000" stop-opacity="0.320"/><stop offset="0.529" stop-color="#000" stop-opacity="0.228"/><stop offset="0.588" stop-color="#000" stop-opacity="0.156"/><stop offset="0.647" stop-color="#000" stop-opacity="0.102"/><stop offset="0.706" stop-color="#000" stop-opacity="0.065"/><stop offset="0.765" stop-color="#000" stop-opacity="0.039"/><stop offset="0.824" stop-color="#000" stop-opacity="0.023"/><stop offset="0.882" stop-color="#000" stop-opacity="0.009"/><stop offset="0.941" stop-color="#000" stop-opacity="0.002"/><stop offset="1.000" stop-color="#000" stop-opacity="0.000"/></radialGradient>
<ellipse cx="695.2" cy="685" rx="15.51" ry="21.54" fill="url(#g22)" transform="rotate(12 695.2 685)"/>
</g></g>
<circle cx="109.8" cy="300.9" r="39.5" fill="none" stroke="#000" stroke-width="1.39"/>
<circle cx="104.9" cy="292" r="39.2" fill="none" stroke="#f00" stroke-width="1.39"/>
<circle cx="305.7" cy="306.9" r="39.6" fill="none" stroke="#000" stroke-width="1.39"/>
<circle cx="501.8" cy="300.9" r="39.5" fill="none" stroke="#000" stroke-width="1.39"/>
<circle cx="496.9" cy="292" r="39.2" fill="none" stroke="#f00" stroke-width="1.39"/>
<rect x="107.87" y="400" width="1.26" height="40" fill="#000"/>
<rect x="8" y="500.87" width="40" height="1.26" fill="#000"/>
<rect x="303.87" y="400" width="1.26" height="40" fill="#000"/>
<rect x="204" y="500.87" width="40" height="1.26" fill="#000"/>
<rect x="499.87" y="400" width="1.26" height="40" fill="#000"/>
<rect x="400" y="500.87" width="40" height="1.26" fill="#000"/>
<rect x="695.87" y="400" width="1.26" height="40" fill="#000"/>
<rect x="596" y="500.87" width="40" height="1.26" fill="#000"/>
<rect x="107.87" y="596" width="1.26" height="40" fill="#000"/>
<rect x="8" y="696.87" width="40" height="1.26" fill="#000"/>
<rect x="303.87" y="596" width="1.26" height="40" fill="#000"/>
<rect x="204" y="696.87" width="40" height="1.26" fill="#000"/>
<rect x="499.87" y="596" width="1.26" height="40" fill="#000"/>
<rect x="400" y="696.87" width="40" height="1.26" fill="#000"/>
<rect x="695.87" y="596" width="1.26" height="40" fill="#000"/>
<rect x="596" y="696.87" width="40" height="1.26" fill="#000"/>
<rect x="596" y="204" width="196" height="196" fill="#fff"/>
<rect x="8.5" y="204.5" width="196" height="196" fill="none" stroke="#000" stroke-width="1.3"/>
<rect x="204.5" y="204.5" width="196" height="196" fill="none" stroke="#000" stroke-width="1.3"/>
<rect x="400.5" y="204.5" width="196" height="196" fill="none" stroke="#000" stroke-width="1.3"/>
<rect x="596.5" y="204.5" width="196" height="196" fill="none" stroke="#000" stroke-width="1.3"/>
<rect x="8.5" y="400.5" width="196" height="196" fill="none" stroke="#000" stroke-width="1.3"/>
<rect x="204.5" y="400.5" width="196" height="196" fill="none" stroke="#000" stroke-width="1.3"/>
<rect x="400.5" y="400.5" width="196" height="196" fill="none" stroke="#000" stroke-width="1.3"/>
<rect x="596.5" y="400.5" width="196" height="196" fill="none" stroke="#000" stroke-width="1.3"/>
<rect x="8.5" y="596.5" width="196" height="196" fill="none" stroke="#000" stroke-width="1.3"/>
<rect x="204.5" y="596.5" width="196" height="196" fill="none" stroke="#000" stroke-width="1.3"/>
<rect x="400.5" y="596.5" width="196" height="196" fill="none" stroke="#000" stroke-width="1.3"/>
<rect x="596.5" y="596.5" width="196" height="196" fill="none" stroke="#000" stroke-width="1.3"/>
<text x="40.16" y="64.00" font-size="24">#135</text>
<text x="128.95" y="64.00" font-size="24">RA=10:00:21.021</text>
<text x="350.71" y="64.00" font-size="24">DEC=</text>
<text x="428.32" y="64.00" font-size="24">2:40:53.30</text>
<text x="605.13" y="64.00" font-size="24">score=30.0</text>
<text transform="translate(103.42 104.00) scale(1 1.09)" font-size="16.67">xc</text>
<text transform="translate(185.14 104.00) scale(1 1.09)" font-size="16.67">yc</text>
<text transform="translate(246.28 104.00) scale(1 1.09)" font-size="16.67">fwhm</text>
<text transform="translate(303.17 104.00) scale(1 1.09)" font-size="16.67">fluxrad</text>
<text transform="translate(371.53 104.00) scale(1 1.09)" font-size="16.67">isoarea</text>
<text transform="translate(437.37 104.00) scale(1 1.09)" font-size="16.67">mag</text>
<text transform="translate(479.59 104.00) scale(1 1.09)" font-size="16.67">auto</text>
<text transform="translate(532.31 104.00) scale(1 1.09)" font-size="16.67">aper</text>
<text transform="translate(581.30 104.00) scale(1 1.09)" font-size="16.67">cl</text>
<text transform="translate(599.42 104.00) scale(1 1.09)" font-size="16.67">star</text>
<text transform="translate(640.56 104.00) scale(1 1.09)" font-size="16.67">phmag</text>
<text transform="translate(39.35 128.00) scale(1 1.09)" font-size="16.67">dif</text>
<text transform="translate(82.12 128.00) scale(1 1.09)" font-size="16.67">9526.39</text>
<text transform="translate(160.90 128.00) scale(1 1.09)" font-size="16.67">17719.80</text>
<text transform="translate(261.89 128.00) scale(1 1.09)" font-size="16.67">4.69</text>
<text transform="translate(320.25 128.00) scale(1 1.09)" font-size="16.67">1.59</text>
<text transform="translate(383.73 128.00) scale(1 1.09)" font-size="16.67">25.00</text>
<text transform="translate(457.51 128.00) scale(1 1.09)" font-size="16.67">22.19</text>
<text transform="translate(526.02 128.00) scale(1 1.09)" font-size="16.67">23.04</text>
<text transform="translate(594.88 128.00) scale(1 1.09)" font-size="16.67">0.94</text>
<text transform="translate(663.53 128.00) scale(1 1.09)" font-size="16.67">22.75</text>
<text transform="translate(39.29 152.00) scale(1 1.09)" font-size="16.67">ref</text>
<text transform="translate(83.93 152.00) scale(1 1.09)" font-size="16.67">9525.31</text>
<text transform="translate(163.04 152.00) scale(1 1.09)" font-size="16.67">17721.98</text>
<text transform="translate(263.89 152.00) scale(1 1.09)" font-size="16.67">3.88</text>
<text transform="translate(322.06 152.00) scale(1 1.09)" font-size="16.67">2.57</text>
<text transform="translate(380.40 152.00) scale(1 1.09)" font-size="16.67">312.00</text>
<text transform="translate(464.89 152.00) scale(1 1.09)" font-size="16.67">19.56</text>
<text transform="translate(533.56 152.00) scale(1 1.09)" font-size="16.67">19.58</text>
<text transform="translate(602.23 152.00) scale(1 1.09)" font-size="16.67">0.88</text>
<text transform="translate(663.64 152.00) scale(1 1.09)" font-size="16.67">19.49 ref</text>
<text transform="translate(663.73 176.00) scale(1 1.09)" font-size="16.67">19.43 new</text>
<text x="79.87" y="184.00" font-size="20">dist=</text>
<text x="145.80" y="184.00" font-size="20">2.43</text>
<text x="228.82" y="184.00" font-size="20">z=9.9900</text>
<text transform="translate(13.68 397.50) scale(1 1.09)" font-size="16.67">20150131</text>
<text transform="translate(211.39 397.50) scale(1 1.09)" font-size="16.67">-20111218</text>
<text transform="translate(407.76 397.50) scale(1 1.09)" font-size="16.67">R20111218</text>
<text transform="translate(12.08 592.20) scale(1 1.09)" font-size="16.67">20141203</text>
<text transform="translate(208.08 592.20) scale(1 1.09)" font-size="16.67">20150111</text>
<text transform="translate(404.08 592.20) scale(1 1.09)" font-size="16.67">20150128</text>
<text transform="translate(600.08 592.20) scale(1 1.09)" font-size="16.67" style="fill:#f00;stroke:#f00">20150131</text>
<text transform="translate(12.08 788.20) scale(1 1.09)" font-size="16.67">20150215</text>
<text transform="translate(208.08 788.20) scale(1 1.09)" font-size="16.67">20150310</text>
<text transform="translate(404.08 788.20) scale(1 1.09)" font-size="16.67">20150314</text>
<text transform="translate(600.08 788.20) scale(1 1.09)" font-size="16.67">20150319</text>
<text transform="translate(590.00 232.60) scale(1 1.09)" font-size="16.67" text-anchor="end">22.5</text>
<text transform="translate(590.00 256.10) scale(1 1.09)" font-size="16.67" text-anchor="end">23.0</text>
<text transform="translate(590.00 281.30) scale(1 1.09)" font-size="16.67" text-anchor="end">23.5</text>
<text transform="translate(590.00 305.50) scale(1 1.09)" font-size="16.67" text-anchor="end">24.0</text>
<text transform="translate(590.00 330.50) scale(1 1.09)" font-size="16.67" text-anchor="end">24.5</text>
<text transform="translate(590.00 355.50) scale(1 1.09)" font-size="16.67" text-anchor="end">25.0</text>
<text transform="translate(590.00 379.50) scale(1 1.09)" font-size="16.67" text-anchor="end">25.5</text>
<text transform="translate(590.00 404.50) scale(1 1.09)" font-size="16.67" text-anchor="end">26.0</text>
<text transform="translate(624.60 419.60) scale(1 1.09)" font-size="16.67" text-anchor="middle" textLength="43.9" lengthAdjust="spacing">−100</text>
<text transform="translate(679.00 419.60) scale(1 1.09)" font-size="16.67" text-anchor="middle" textLength="34.1" lengthAdjust="spacing">−50</text>
<text transform="translate(733.90 419.60) scale(1 1.09)" font-size="16.67" text-anchor="middle">0</text>
<text transform="translate(790.60 419.60) scale(1 1.09)" font-size="16.67" text-anchor="middle">50</text>
<rect x="596" y="228" width="6.5" height="1" fill="#000"/>
<rect x="786.5" y="228" width="6" height="1" fill="#000"/>
<rect x="596" y="252" width="6.5" height="1" fill="#000"/>
<rect x="786.5" y="252" width="6" height="1" fill="#000"/>
<rect x="596" y="277" width="6.5" height="1" fill="#000"/>
<rect x="786.5" y="277" width="6" height="1" fill="#000"/>
<rect x="596" y="301" width="6.5" height="1" fill="#000"/>
<rect x="786.5" y="301" width="6" height="1" fill="#000"/>
<rect x="596" y="326" width="6.5" height="1" fill="#000"/>
<rect x="786.5" y="326" width="6" height="1" fill="#000"/>
<rect x="596" y="351" width="6.5" height="1" fill="#000"/>
<rect x="786.5" y="351" width="6" height="1" fill="#000"/>
<rect x="596" y="375" width="6.5" height="1" fill="#000"/>
<rect x="786.5" y="375" width="6" height="1" fill="#000"/>
<rect x="624" y="394.5" width="1" height="6" fill="#000"/>
<rect x="624" y="204" width="1" height="6.5" fill="#000"/>
<rect x="679" y="394.5" width="1" height="6" fill="#000"/>
<rect x="679" y="204" width="1" height="6.5" fill="#000"/>
<rect x="734" y="394.5" width="1" height="6" fill="#000"/>
<rect x="734" y="204" width="1" height="6.5" fill="#000"/>
<rect x="790" y="394.5" width="1" height="6" fill="#000"/>
<rect x="790" y="204" width="1" height="6.5" fill="#000"/>
<g stroke="#00f" stroke-width="1.3" fill="none">
<path d="M669.5 252.5V295.4"/>
<path d="M734.4 224.25V256.3"/>
<path d="M751.4 284.6V348.4"/>
<path d="M777.5 255.4V292.1"/>
<path d="M781.4 248.4V277.5"/>
<path d="M786.5 230.25V262.5"/>
</g>
<g stroke="#00f" stroke-width="0.8" fill="none">
<path d="M665.3 252.5h8.4M665.3 295.4h8.4"/>
<path d="M730.2 224.25h8.4M730.2 256.3h8.4"/>
<path d="M747.2 284.6h8.4M747.2 348.4h8.4"/>
<path d="M773.3 255.4h8.4M773.3 292.1h8.4"/>
<path d="M777.2 248.4h8.4M777.2 277.5h8.4"/>
<path d="M782.3 230.25h8.4M782.3 262.5h8.4"/>
</g>
<path d="M712.5 375.35l-4.3 6.1h8.6z" fill="#00f"/>
<path d="M731.5 375.35l-4.3 6.1h8.6z" fill="#00f"/>
<g fill="#00f" stroke="#000" stroke-width="0.9">
<circle cx="669.5" cy="274.4" r="4.1"/>
<circle cx="734.4" cy="240.4" r="4.1"/>
<circle cx="751.4" cy="316.5" r="4.1"/>
<circle cx="777.5" cy="274.3" r="4.1"/>
<circle cx="781.4" cy="263.6" r="4.1"/>
<circle cx="786.5" cy="246.2" r="4.1"/>
<circle cx="712.5" cy="375.35" r="4.1"/>
<circle cx="731.5" cy="375.35" r="4.1"/>
</g>
</svg>
</body></html>
